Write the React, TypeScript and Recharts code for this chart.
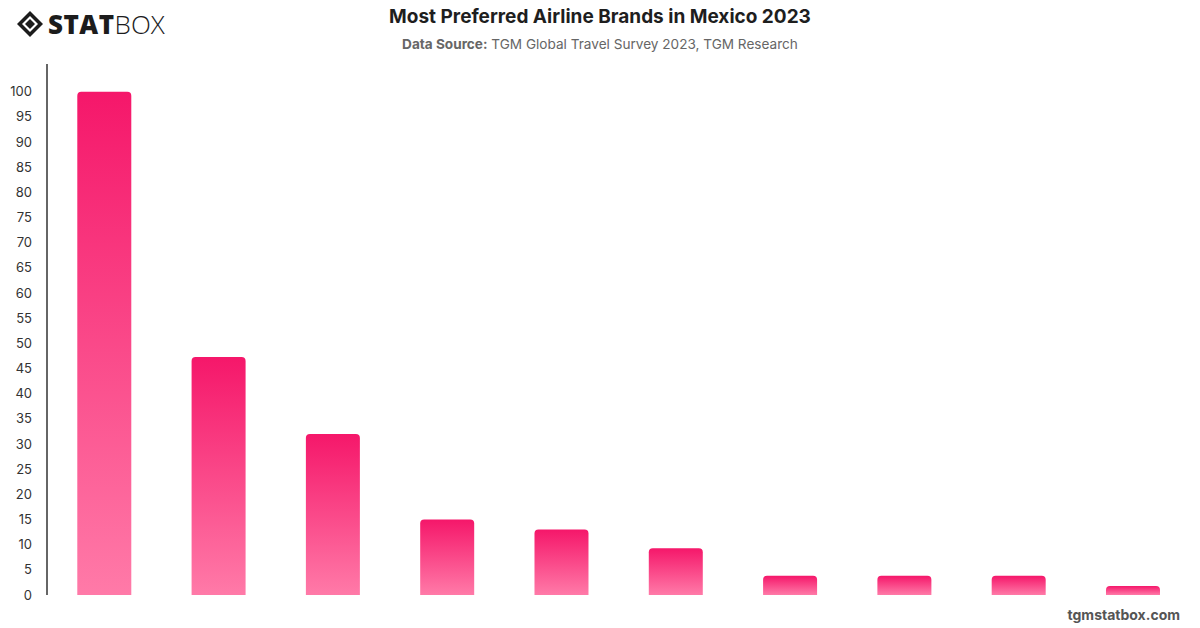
import { BarChart, Bar, XAxis, YAxis } from "recharts";

const airlines = [
  "Aeroméxico",
  "Volaris",
  "Viva Aerobus",
  "American Airlines",
  "United Airlines",
  "Delta Air Lines",
  "Iberia",
  "Southwest Airlines",
  "Avianca",
  "Air Canada",
];
const scores = [100, 47.3, 32, 15, 13, 9.3, 3.8, 3.8, 3.8, 1.8];
const yTicks = [0, 5, 10, 15, 20, 25, 30, 35, 40, 45, 50, 55, 60, 65, 70, 75, 80, 85, 90, 95, 100];

const chartData = airlines.map((name, i) => ({ name, value: scores[i] }));

const font = "Inter, 'Helvetica Neue', Arial, sans-serif";

function Logo() {
  return (
    <div
      style={{
        position: "absolute",
        left: 15,
        top: 6,
        display: "flex",
        alignItems: "center",
        gap: 3,
        fontFamily: "'Open Sans', Arial, sans-serif",
        color: "#1c1c1c",
      }}
    >
      <svg width={30} height={30} viewBox="0 0 30 30">
        <path d="M15 2 L28 15 L15 28 L2 15 Z" fill="#1c1c1c" />
        <path d="M15 7 L23 15 L15 23 L7 15 Z" fill="#fff" />
        <path d="M15 10 L20 15 L15 20 L10 15 Z" fill="#1c1c1c" />
      </svg>
      <span style={{ fontSize: 26, fontWeight: 900, letterSpacing: 0.5 }}>STAT</span>
      <span style={{ fontSize: 26, fontWeight: 300, marginLeft: -3 }}>BOX</span>
    </div>
  );
}

export default function App() {
  return (
    <div
      style={{
        position: "absolute",
        left: 0,
        top: 0,
        width: 1200,
        height: 628,
        background: "#fff",
        fontFamily: font,
      }}
    >
      <Logo />
      <div
        style={{
          position: "absolute",
          top: 5,
          width: 1200,
          textAlign: "center",
          fontSize: 19,
          fontWeight: 700,
          color: "#1e1e1e",
        }}
      >
        Most Preferred Airline Brands in Mexico 2023
      </div>
      <div
        style={{
          position: "absolute",
          top: 36,
          width: 1200,
          textAlign: "center",
          fontSize: 13.6,
          color: "#666",
        }}
      >
        <b>Data Source:</b> TGM Global Travel Survey 2023, TGM Research
      </div>

      <BarChart
        width={1200}
        height={628}
        data={chartData}
        margin={{ top: 64, right: 10, bottom: 33, left: 0 }}
        barCategoryGap="26.5%"
        style={{ position: "absolute", left: 0, top: 0 }}
      >
        <defs>
          <linearGradient id="barFill" x1="0" y1="0" x2="0" y2="1">
            <stop offset="0%" stopColor="#f5176a" />
            <stop offset="100%" stopColor="#ff7aa8" />
          </linearGradient>
        </defs>
        <XAxis
          dataKey="name"
          tick={false}
          tickLine={false}
          height={0}
          axisLine={{ stroke: "#333", strokeWidth: 1.5 }}
        />
        <YAxis
          width={47}
          domain={[0, 105.5]}
          ticks={yTicks}
          interval={0}
          tickLine={false}
          tickSize={0}
          tickMargin={15}
          axisLine={{ stroke: "#333", strokeWidth: 1.5 }}
          tick={{ fill: "#333", fontSize: 13, fontFamily: font }}
        />
        <Bar
          dataKey="value"
          fill="url(#barFill)"
          radius={[4, 4, 0, 0]}
          isAnimationActive={false}
        />
      </BarChart>

      <div
        style={{
          position: "absolute",
          right: 20,
          top: 606,
          fontSize: 14,
          fontWeight: 700,
          color: "#555",
        }}
      >
        tgmstatbox.com
      </div>
    </div>
  );
}
